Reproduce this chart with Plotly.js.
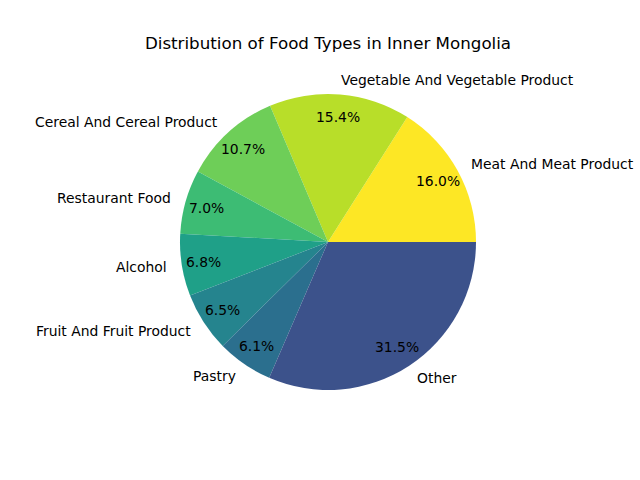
<!DOCTYPE html>
<html>
<head>
<meta charset="utf-8">
<script src="https://cdn.plot.ly/plotly-3.0.1.min.js"></script>
<style>html,body{margin:0;padding:0;background:#fff;}</style>
</head>
<body>
<div id="chart" style="width:640px;height:480px;"></div>
<script>
const categories = ["Meat And Meat Product", "Vegetable And Vegetable Product", "Cereal And Cereal Product", "Restaurant Food", "Alcohol", "Fruit And Fruit Product", "Pastry", "Other"];
const values = [16.0, 15.4, 10.7, 7.0, 6.8, 6.5, 6.1, 31.5];
const colors = ["#fde725", "#b8de29", "#6ece58", "#3dbc74", "#1fa088", "#25848e", "#2b6f8e", "#3c528b"];

const W = 640, H = 480;
const cx = 328, cy = 242, r = 148;
const domX = [(cx - r) / W, (cx + r) / W];
const domY = [(H - cy - r) / H, (H - cy + r) / H];

const total = values.reduce((a, b) => a + b, 0);
const annotations = [];
let acc = 0;
const font = {family: "DejaVu Sans", size: 13.9, color: "#000"};
values.forEach((v, i) => {
  const mid = (acc + v / 2) / total * 2 * Math.PI;
  acc += v;
  const c = Math.cos(mid), s = Math.sin(mid);
  const lx = cx + 1.1 * r * c, ly = cy - 1.1 * r * s;
  annotations.push({
    text: categories[i], xref: "paper", yref: "paper",
    x: lx / W, y: 1 - ly / H, xanchor: c > 0 ? "left" : "right", yanchor: "middle",
    xshift: c > 0 ? -2 : 2,
    showarrow: false, font: font
  });
  const px = cx + 0.85 * r * c, py = cy - 0.85 * r * s;
  annotations.push({
    text: (v / total * 100).toFixed(1) + "%", xref: "paper", yref: "paper",
    x: px / W, y: 1 - py / H, xanchor: "center", yanchor: "middle",
    showarrow: false, font: font
  });
});

const trace = {
  type: "pie",
  labels: categories,
  values: values,
  sort: false,
  direction: "counterclockwise",
  rotation: 90 - values[0] / total * 360,
  marker: {colors: colors, line: {width: 0}},
  textinfo: "none",
  hoverinfo: "label+percent",
  domain: {x: domX, y: domY},
  showlegend: false
};

const layout = {
  width: W, height: H,
  margin: {l: 0, r: 0, t: 0, b: 0},
  paper_bgcolor: "#fff",
  showlegend: false,
  title: {text: "Distribution of Food Types in Inner Mongolia", x: cx / W, xanchor: "center", y: 1 - 43 / H, yanchor: "middle",
          font: {family: "DejaVu Sans", size: 16.7, color: "#000"}},
  annotations: annotations
};

Plotly.newPlot("chart", [trace], layout, {displayModeBar: false, staticPlot: true});
</script>
</body>
</html>
